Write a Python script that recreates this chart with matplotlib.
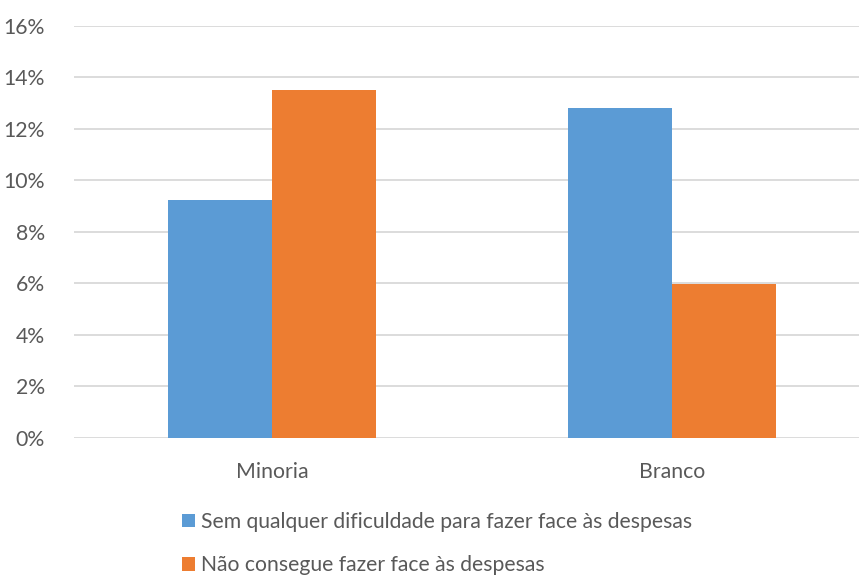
import matplotlib
matplotlib.use("Agg")
import matplotlib.pyplot as plt
from matplotlib.patches import Patch
from matplotlib.ticker import FuncFormatter

categories = ["Minoria", "Branco"]
series_names = ["Sem qualquer dificuldade para fazer face às despesas",
                "Não consegue fazer face às despesas"]
sem_dificuldade = [9.22, 12.80]
nao_consegue = [13.53, 5.95]
yticks = [0, 2, 4, 6, 8, 10, 12, 14, 16]

blue = "#5B9BD5"
orange = "#ED7D31"
text_col = "#595959"
grid_col = "#D9D9D9"

plt.rcParams['font.family'] = ['Lato', 'DejaVu Sans']

fig = plt.figure(figsize=(8.59, 5.78), dpi=100)
ax = fig.add_axes([74/859, 140.5/578, 1 - 74/859, (437.5-26)/578])

x = list(range(len(categories)))
w = 0.26
ax.bar([i - w/2 for i in x], sem_dificuldade, width=w, color=blue, zorder=3)
ax.bar([i + w/2 for i in x], nao_consegue, width=w, color=orange, zorder=3)

ax.set_xlim(-0.495, 1.4675)
ax.set_ylim(0, 16)
ax.set_yticks(yticks)
ax.yaxis.set_major_formatter(FuncFormatter(lambda v, p: f"{int(v)}%"))
ax.set_xticks(x)
ax.set_xticklabels(categories)
ax.grid(axis='y', color=grid_col, linewidth=1.3, zorder=0)
for s in ax.spines.values():
    s.set_visible(False)
ax.tick_params(axis='both', length=0, colors=text_col, labelsize=15.3)
ax.tick_params(axis='y', pad=21)
ax.tick_params(axis='x', pad=18)

handles = [Patch(facecolor=blue, edgecolor='none'), Patch(facecolor=orange, edgecolor='none')]
leg = fig.legend(handles, series_names, loc='upper left', bbox_to_anchor=(182/859, 1 - 512/578),
                 frameon=False, ncol=1, fontsize=15.2, handlelength=0.62, handleheight=0.62,
                 handletextpad=0.3, labelspacing=1.1, borderaxespad=0, borderpad=0)
for t in leg.get_texts():
    t.set_color(text_col)

fig.savefig("out.png", dpi=100)
